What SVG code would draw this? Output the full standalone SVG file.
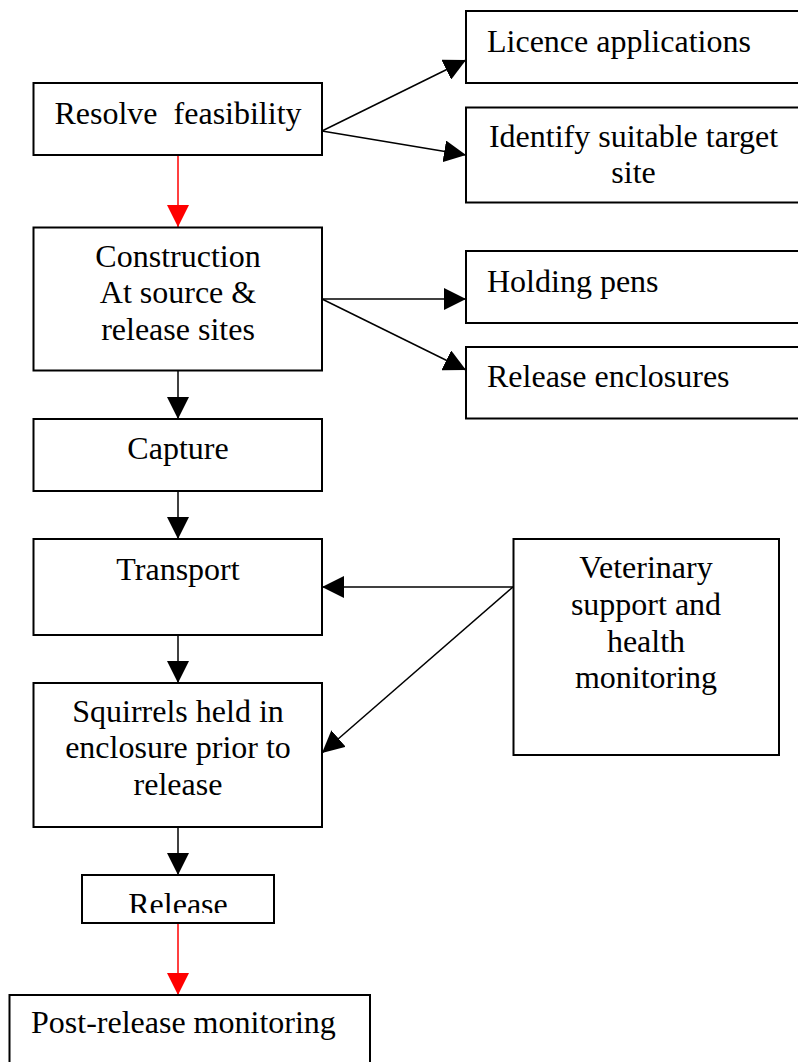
<svg xmlns="http://www.w3.org/2000/svg" width="798" height="1062" viewBox="0 0 798 1062">
<style>
.box{fill:#fff;stroke:#000;stroke-width:2}
.t{font-family:"Liberation Serif","Times New Roman",serif;font-size:32px;fill:#000}
.c{text-anchor:middle}
.pre{white-space:pre}
.ln{stroke:#000;stroke-width:1.5;fill:none}
.red{stroke:#f00}
</style>
<defs>
<marker id="ah" markerUnits="userSpaceOnUse" markerWidth="22" markerHeight="22" viewBox="0 0 20 20" refX="20" refY="10" orient="auto">
<path d="M0,0 L20,10 L0,20 Z" fill="#000"/>
</marker>
<marker id="ahr" markerUnits="userSpaceOnUse" markerWidth="22" markerHeight="22" viewBox="0 0 20 20" refX="20" refY="10" orient="auto">
<path d="M0,0 L20,10 L0,20 Z" fill="#f00"/>
</marker>
<clipPath id="relclip"><rect x="82" y="876" width="192" height="37"/></clipPath>
</defs>
<rect width="798" height="1062" fill="#fff"/>

<g id="connectors">
<line class="ln red" x1="178" y1="155" x2="178" y2="227" marker-end="url(#ahr)"/>
<line class="ln" x1="322" y1="131" x2="466" y2="60" marker-end="url(#ah)"/>
<line class="ln" x1="322" y1="131" x2="466" y2="155" marker-end="url(#ah)"/>
<line class="ln" x1="322" y1="299" x2="466" y2="299" marker-end="url(#ah)"/>
<line class="ln" x1="322" y1="299" x2="466" y2="370" marker-end="url(#ah)"/>
<line class="ln" x1="178" y1="371" x2="178" y2="419" marker-end="url(#ah)"/>
<line class="ln" x1="178" y1="491" x2="178" y2="539" marker-end="url(#ah)"/>
<line class="ln" x1="178" y1="635" x2="178" y2="683" marker-end="url(#ah)"/>
<line class="ln" x1="513" y1="587" x2="322" y2="587" marker-end="url(#ah)"/>
<line class="ln" x1="513" y1="587" x2="322" y2="753" marker-end="url(#ah)"/>
<line class="ln" x1="178" y1="827" x2="178" y2="875" marker-end="url(#ah)"/>
<line class="ln red" x1="178" y1="923" x2="178" y2="995" marker-end="url(#ahr)"/>
</g>

<g id="resolve">
<rect class="box" x="33.5" y="83" width="288.5" height="72"/>
<text class="t c pre" x="178" y="124" xml:space="preserve">Resolve  feasibility</text>
</g>
<g id="licence">
<rect class="box" x="466" y="11" width="336" height="72"/>
<text class="t" x="487" y="52">Licence applications</text>
</g>
<g id="identify">
<rect class="box" x="466" y="107.5" width="336" height="95"/>
<text class="t c" x="633.5" y="146.7">Identify suitable target</text>
<text class="t c" x="633.5" y="183.3">site</text>
</g>
<g id="construction">
<rect class="box" x="33.5" y="227.5" width="288.5" height="143"/>
<text class="t c" x="178" y="266.7">Construction</text>
<text class="t c" x="178" y="303.3">At source &amp;</text>
<text class="t c" x="178" y="340">release sites</text>
</g>
<g id="holding">
<rect class="box" x="466" y="251" width="336" height="72"/>
<text class="t" x="487" y="291.7">Holding pens</text>
</g>
<g id="release-enclosures">
<rect class="box" x="466" y="347" width="336" height="71.5"/>
<text class="t" x="487" y="386.7">Release enclosures</text>
</g>
<g id="capture">
<rect class="box" x="33.5" y="419" width="288.5" height="72"/>
<text class="t c" x="178" y="459.3">Capture</text>
</g>
<g id="transport">
<rect class="box" x="33.5" y="539" width="288.5" height="96"/>
<text class="t c" x="178" y="580">Transport</text>
</g>
<g id="veterinary">
<rect class="box" x="513.5" y="539" width="265.5" height="216"/>
<text class="t c" x="646" y="578.3">Veterinary</text>
<text class="t c" x="646" y="615">support and</text>
<text class="t c" x="646" y="651.7">health</text>
<text class="t c" x="646" y="688.3">monitoring</text>
</g>
<g id="squirrels">
<rect class="box" x="33.5" y="683" width="288.5" height="144"/>
<text class="t c" x="178" y="721.7">Squirrels held in</text>
<text class="t c" x="178" y="758.3">enclosure prior to</text>
<text class="t c" x="178" y="795">release</text>
</g>
<g id="release">
<rect class="box" x="82" y="875" width="192" height="48"/>
<text class="t c" x="178" y="915" clip-path="url(#relclip)">Release</text>
</g>
<g id="post-release">
<rect class="box" x="9.5" y="995" width="360.5" height="80"/>
<text class="t" x="31" y="1033">Post-release monitoring</text>
</g>
</svg>
